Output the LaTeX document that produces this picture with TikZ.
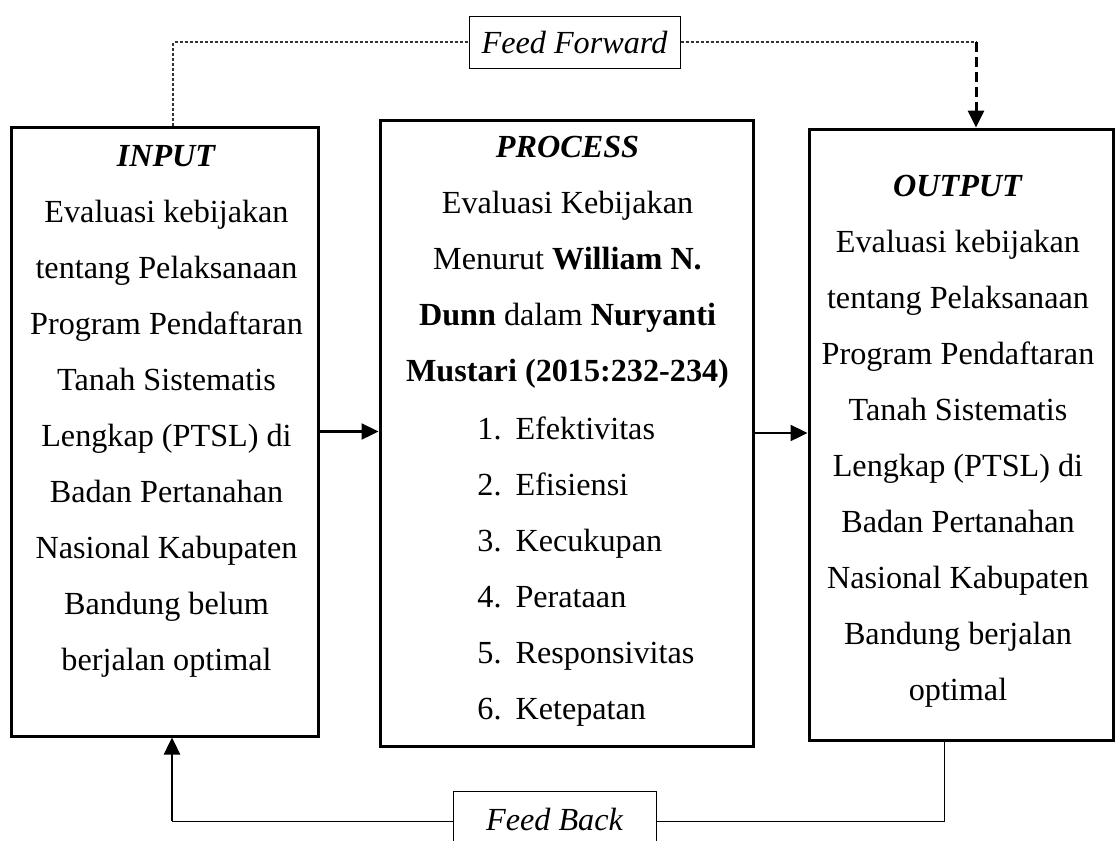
\documentclass[tikz,border=0pt]{standalone}
\usepackage{fontspec}
\setmainfont{Liberation Serif}
\usetikzlibrary{positioning,arrows.meta}
\tikzset{
  mainbox/.style={draw, line width=1.5pt, inner sep=0pt},
  boxtext/.style={align=center, inner sep=0pt, font=\fontsize{16.1}{28}\selectfont},
  feedbox/.style={draw, line width=0.5pt, inner sep=0pt, font=\fontsize{16.1}{19}\selectfont\itshape},
  tip/.style={-{Triangle[length=8.5pt,width=8pt]}},
  finedash/.style={line width=0.6pt, black!80, dash pattern=on 1.5pt off 1pt},
  bigdash/.style={line width=1.5pt, dash pattern=on 5pt off 2.5pt},
}
\begin{document}
\begin{tikzpicture}[x=0.5pt,y=-0.5pt]
  \useasboundingbox (0,0) rectangle (1115,841);
  \node[mainbox, minimum width=153.5pt, minimum height=304.5pt] (inbox) at (164.5,431.5) {};
  \node[mainbox, minimum width=186.5pt, minimum height=313pt] (procbox) at (566.5,433) {};
  \node[mainbox, minimum width=152pt, minimum height=305.5pt] (outbox) at (961,434.5) {};
  \node[boxtext, below=9.8pt of inbox.north, xshift=1pt] (intext) {\textbf{\textit{INPUT}}\\Evaluasi kebijakan\\tentang Pelaksanaan\\Program Pendaftaran\\Tanah Sistematis\\Lengkap (PTSL) di\\Badan Pertanahan\\Nasional Kabupaten\\Bandung belum\\berjalan optimal};
  \node[boxtext, below=8.8pt of procbox.north, xshift=0.5pt] (proctext) {\textbf{\textit{PROCESS}}\\Evaluasi Kebijakan\\Menurut \textbf{William N.}\\\textbf{Dunn} dalam \textbf{Nuryanti}\\\textbf{Mustari (2015:232-234)}};
  \node[boxtext, align=left, anchor=north west] (proclist) at (477,416) {1.\hspace{7pt}Efektivitas\\2.\hspace{7pt}Efisiensi\\3.\hspace{7pt}Kecukupan\\4.\hspace{7pt}Perataan\\5.\hspace{7pt}Responsivitas\\6.\hspace{7pt}Ketepatan};
  \node[boxtext, below=23.5pt of outbox.north, xshift=-1.5pt] (outtext) {\textbf{\textit{OUTPUT}}\\Evaluasi kebijakan\\tentang Pelaksanaan\\Program Pendaftaran\\Tanah Sistematis\\Lengkap (PTSL) di\\Badan Pertanahan\\Nasional Kabupaten\\Bandung berjalan\\optimal};
  \node[feedbox, minimum width=105.5pt, minimum height=26pt] (ffbox) at (574.5,42) {Feed Forward};
  \node[feedbox, minimum width=101.5pt, minimum height=28pt] (fbbox) at (554.5,819) {Feed Back};
  \coordinate (ffL) at (173,42);
  \coordinate (ffR) at (976,42);
  \coordinate (fbL) at (172,821);
  \coordinate (fbR) at (944,821);
  \draw[line width=1.2pt, tip] (inbox.east) -- (inbox.east -| procbox.west);
  \draw[line width=1.2pt, tip] (procbox.east) -- (procbox.east -| outbox.west);
  \draw[finedash] (ffL |- inbox.north) -- (ffL) -- (ffbox.west);
  \draw[finedash] (ffbox.east) -- (ffR);
  \draw[bigdash, tip] (ffR) -- (ffR |- outbox.north);
  \draw[line width=0.5pt] (outbox.south -| fbR) -- (fbR) -- (fbR -| fbbox.east);
  \draw[line width=0.5pt] (fbL -| fbbox.west) -- (fbL);
  \draw[line width=1.2pt, tip] (fbL) -- (fbL |- inbox.south);
\end{tikzpicture}
\end{document}
